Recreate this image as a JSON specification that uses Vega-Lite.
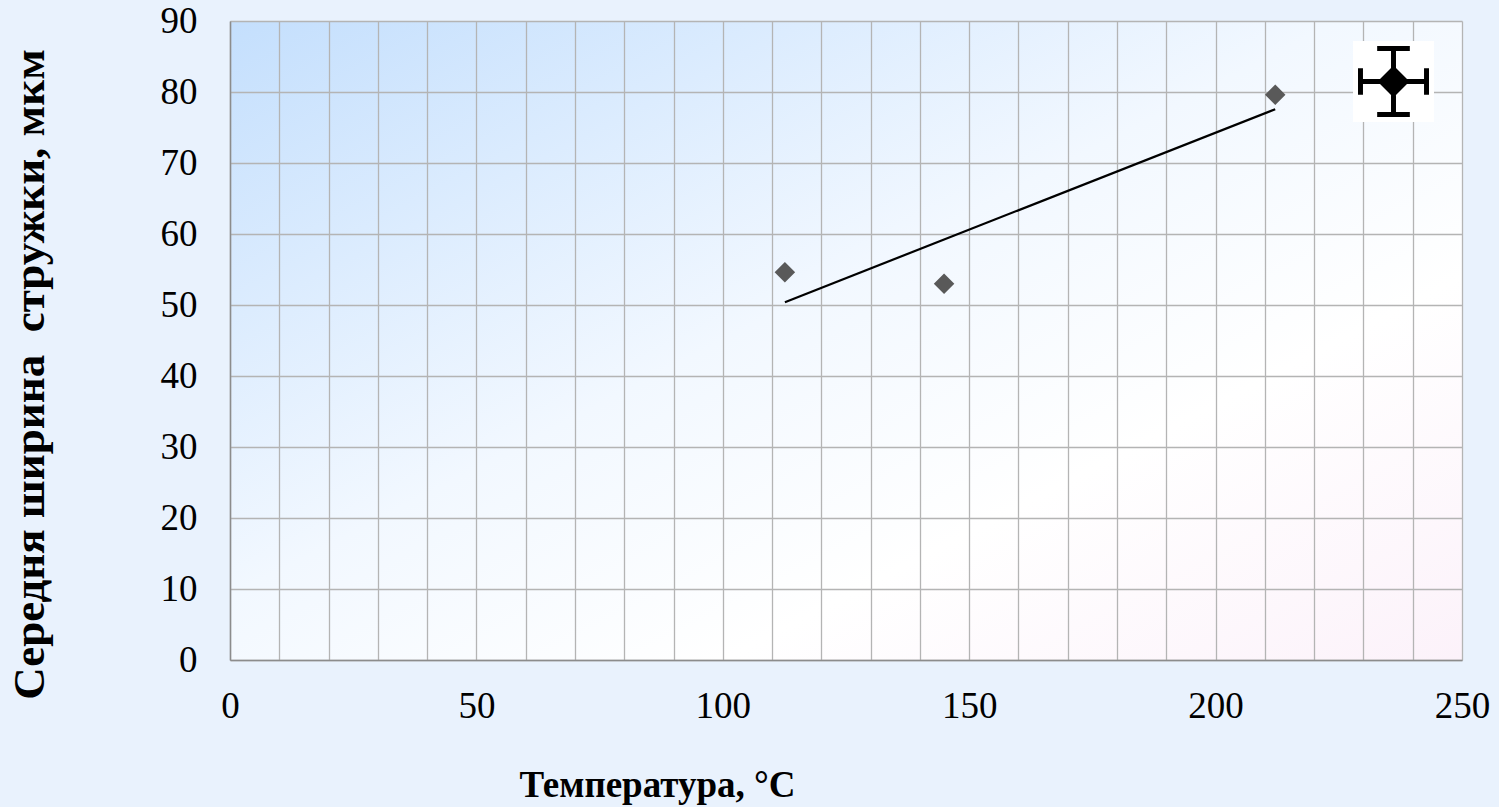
{
  "$schema": "https://vega.github.io/schema/vega-lite/v6.json",
  "width": 1232,
  "height": 639,
  "autosize": "none",
  "padding": {"left": 230, "top": 21, "right": 37, "bottom": 147},
  "background": "#e9f2fd",
  "view": {
    "stroke": null,
    "fill": {
      "gradient": "linear",
      "x1": 0, "y1": 0, "x2": 1, "y2": 1,
      "stops": [
        {"offset": 0, "color": "#c4dffd"},
        {"offset": 0.45, "color": "#f2f8ff"},
        {"offset": 0.7, "color": "#ffffff"},
        {"offset": 1, "color": "#fcf2fa"}
      ]
    }
  },
  "config": {"font": "Liberation Serif"},
  "data": {
    "values": [
      {"t": 112.6, "w": 54.6},
      {"t": 144.9, "w": 53.0},
      {"t": 212.1, "w": 79.6}
    ]
  },
  "encoding": {
    "x": {
      "field": "t",
      "type": "quantitative",
      "scale": {"domain": [0, 250], "nice": false, "zero": false},
      "axis": {
        "title": "Температура, °C",
        "values": [0,10,20,30,40,50,60,70,80,90,100,110,120,130,140,150,160,170,180,190,200,210,220,230,240,250],
        "labelExpr": "datum.value % 50 === 0 ? datum.label : ''",
        "labelFont": "Liberation Serif",
        "labelFontSize": 37,
        "labelColor": "#000000",
        "labelPadding": 28,
        "labelFlush": false,
        "labelOverlap": false,
        "ticks": false,
        "grid": true,
        "gridColor": "#b4b4b4",
        "gridWidth": 1.3,
        "domainColor": "#8c8c8c",
        "domainWidth": 1.5,
        "titleFont": "Liberation Serif",
        "titleFontSize": 37,
        "titleFontWeight": "bold",
        "titleColor": "#000000",
        "titleX": 427,
        "titleY": 136,
        "titleBaseline": "alphabetic",
        "titleAnchor": "middle",
        "titleAlign": "center"
      }
    },
    "y": {
      "field": "w",
      "type": "quantitative",
      "scale": {"domain": [0, 90], "nice": false, "zero": false},
      "axis": {
        "title": "Середня ширина\u00a0 стружки, мкм",
        "values": [0,10,20,30,40,50,60,70,80,90],
        "labelFont": "Liberation Serif",
        "labelFontSize": 37,
        "labelColor": "#000000",
        "labelPadding": 33,
        "labelFlush": false,
        "labelOverlap": false,
        "ticks": false,
        "grid": true,
        "gridColor": "#b4b4b4",
        "gridWidth": 1.3,
        "domainColor": "#8c8c8c",
        "domainWidth": 1.5,
        "titleFont": "Liberation Serif",
        "titleFontSize": 45,
        "titleFontWeight": "bold",
        "titleColor": "#000000",
        "titleAngle": -90,
        "titleX": -187,
        "titleY": 353,
        "titleBaseline": "alphabetic",
        "titleAlign": "center"
      }
    }
  },
  "layer": [
    {
      "mark": {"type": "point", "shape": "diamond", "filled": true, "size": 420, "opacity": 1, "strokeWidth": 0, "color": "#595959"}
    },
    {
      "transform": [{"regression": "w", "on": "t"}],
      "mark": {"type": "line", "color": "#000000", "strokeWidth": 2.2}
    },
    {
      "mark": {"type": "point", "shape": "diamond", "filled": true, "size": 10, "opacity": 0, "strokeWidth": 0},
      "encoding": {
        "color": {
          "datum": "Ряд1",
          "scale": {"range": ["#000000"]},
          "legend": {
            "orient": "none",
            "legendX": 1123,
            "legendY": 20,
            "title": null,
            "fillColor": "#ffffff",
            "padding": 5,
            "labelOffset": 0,
            "labelExpr": "''",
            "labelFontSize": 1,
            "symbolType": "M-0.93,-0.07H0.93V0.07H-0.93Z M-0.07,-0.93H0.07V0.93H-0.07Z M-1,-0.37H-0.86V0.37H-1Z M0.86,-0.37H1V0.37H0.86Z M-0.46,-1H0.46V-0.86H-0.46Z M-0.46,0.86H0.46V1H-0.46Z M0,-0.45L0.45,0L0,0.45L-0.45,0Z",
            "symbolSize": 5041,
            "symbolStrokeWidth": 0,
            "symbolOpacity": 1
          }
        }
      }
    }
  ]
}
